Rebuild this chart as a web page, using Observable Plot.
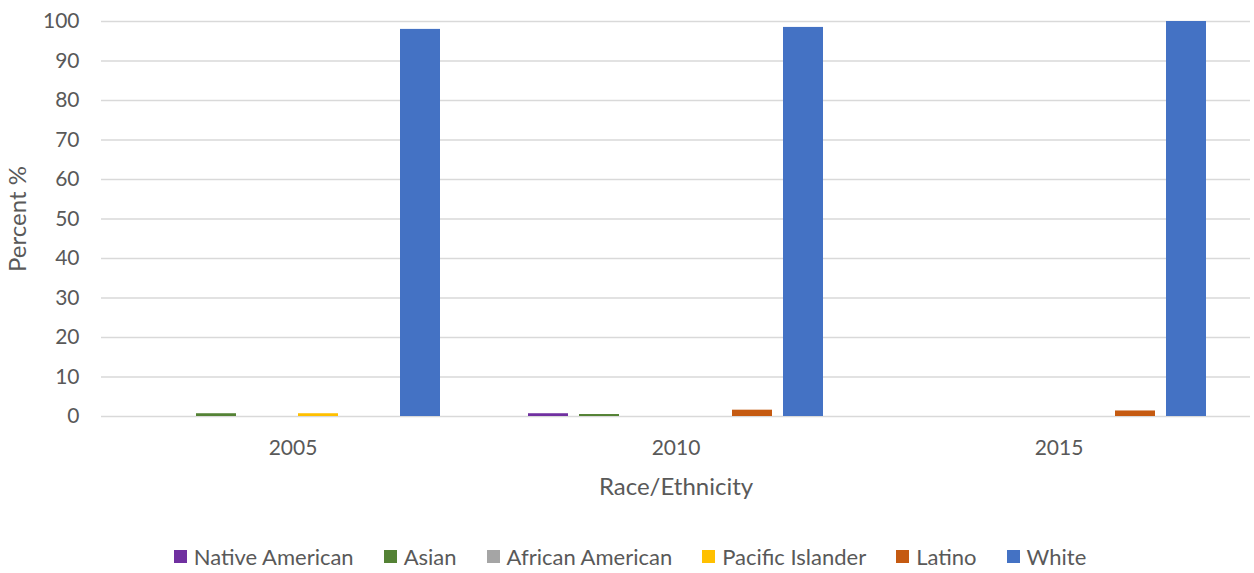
<!DOCTYPE html>
<html>
<head>
<meta charset="utf-8">
<script src="https://cdn.jsdelivr.net/npm/d3@7"></script>
<script src="https://cdn.jsdelivr.net/npm/@observablehq/plot@0.6"></script>
<style>
  html, body { margin: 0; padding: 0; background: #fff; }
  #chart { width: 1254px; }
  #chart svg text { font-size: 21px; }
  #chart svg g[aria-label$="axis label"] text { font-size: 24px; }
  .legend {
    display: flex; justify-content: center; align-items: center;
    height: 38px; font-family: Lato, sans-serif; font-size: 22px; color: #595959;
    padding-left: 6px; margin-top: 2px;
  }
  .legend .item { display: flex; align-items: center; margin: 0 15px; }
  .legend .sw { width: 13px; height: 13px; margin-right: 7px; }
</style>
</head>
<body>
<div id="chart"></div>
<script>
// Share of each race/ethnicity group, by survey year (percent)
const years = ["2005", "2010", "2015"];
const groups = ["Native American", "Asian", "African American", "Pacific Islander", "Latino", "White"];
const groupColors = ["#7030A0", "#548235", "#A5A5A5", "#FFC000", "#C55A11", "#4472C4"];
const values2005 = [0, 0.7, 0, 0.7, 0, 98];
const values2010 = [0.7, 0.5, 0, 0, 1.6, 98.5];
const values2015 = [0, 0, 0, 0, 1.4, 100];
const yTicks = [0, 10, 20, 30, 40, 50, 60, 70, 80, 90, 100];

const seriesByYear = [values2005, values2010, values2015];
const rows = years.flatMap((year, i) =>
  groups.map((group, j) => ({year, group, value: seriesByYear[i][j]}))
);

const chart = Plot.plot({
  width: 1254,
  height: 535,
  marginTop: 21,
  marginLeft: 100,
  marginRight: 4,
  marginBottom: 119,
  style: {fontFamily: "Lato, sans-serif", fontSize: "21px", color: "#595959", background: "#fff"},
  fx: {domain: years, padding: 0, label: null},
  x: {domain: groups, paddingInner: 0.216, paddingOuter: 0.86, axis: null},
  y: {domain: [0, 100], label: null},
  color: {domain: groups, range: groupColors},
  marks: [
    Plot.gridY(yTicks, {stroke: "#d9d9d9", strokeOpacity: 1, strokeWidth: 1.4}),
    Plot.axisY(yTicks, {tickSize: 0, tickPadding: 22, label: "Percent %", labelAnchor: "center", labelOffset: 93, labelArrow: "none", fill: "#595959"}),
    Plot.axisFx({anchor: "bottom", tickSize: 0, tickPadding: 24, label: "Race/Ethnicity", labelAnchor: "center", labelOffset: 78, labelArrow: "none", fill: "#595959"}),
    Plot.barY(rows, {fx: "year", x: "group", y: "value", fill: "group"})
  ]
});

document.getElementById("chart").appendChild(chart);

// Legend below the chart, built from the same groups and colors
const legend = document.createElement("div");
legend.className = "legend";
groups.forEach((g, i) => {
  const item = document.createElement("span");
  item.className = "item";
  const sw = document.createElement("span");
  sw.className = "sw";
  sw.style.background = groupColors[i];
  item.appendChild(sw);
  item.appendChild(document.createTextNode(g));
  legend.appendChild(item);
});
document.getElementById("chart").appendChild(legend);
</script>
</body>
</html>
